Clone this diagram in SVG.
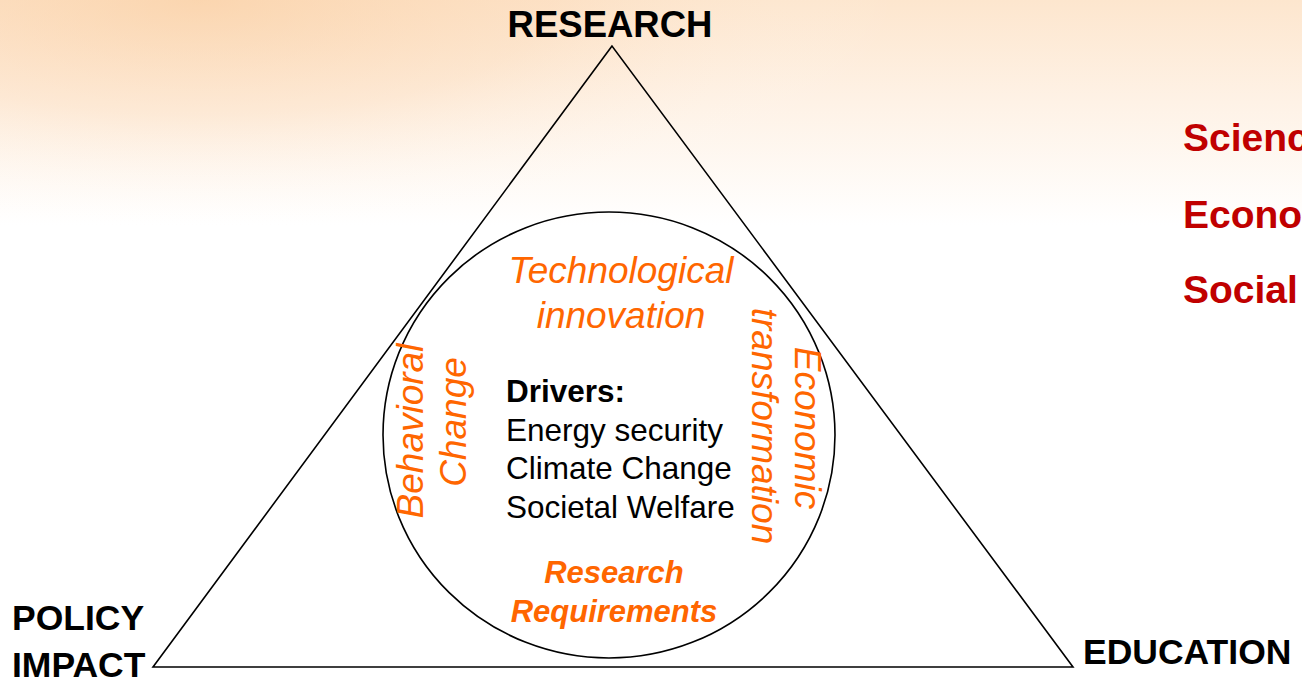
<svg xmlns="http://www.w3.org/2000/svg" width="1302" height="682" viewBox="0 0 1302 682">
<defs>
<linearGradient id="bgv" x1="0" y1="0" x2="0" y2="682" gradientUnits="userSpaceOnUse">
<stop offset="0" stop-color="#FDE6CE"/>
<stop offset="0.15" stop-color="#FEF2E6"/>
<stop offset="0.33" stop-color="#FFFFFF"/>
<stop offset="1" stop-color="#FFFFFF"/>
</linearGradient>
<radialGradient id="bgr" cx="200" cy="0" r="700" gradientUnits="userSpaceOnUse" gradientTransform="translate(200 0) scale(1 0.33) translate(-200 0)">
<stop offset="0" stop-color="#F9C896" stop-opacity="0.55"/>
<stop offset="0.5" stop-color="#FBD3AC" stop-opacity="0.3"/>
<stop offset="1" stop-color="#FFFFFF" stop-opacity="0"/>
</radialGradient>
</defs>
<style>
.lbl{font-family:"Liberation Sans",Arial,sans-serif;font-weight:bold;fill:#000}
.red{font-family:"Liberation Sans",Arial,sans-serif;font-weight:bold;fill:#C00000;font-size:39px}
.or{font-family:"Liberation Sans",Arial,sans-serif;font-style:italic;fill:#FF6600;font-size:37px}
.orb{font-family:"Liberation Sans",Arial,sans-serif;font-style:italic;font-weight:bold;fill:#FF6600;font-size:31px}
.drv{font-family:"Liberation Sans",Arial,sans-serif;fill:#000;font-size:31.5px}
.shape{fill:none;stroke:#000;stroke-width:1.6}
</style>
<rect x="0" y="0" width="1302" height="682" fill="url(#bgv)"/>
<rect x="0" y="0" width="1302" height="682" fill="url(#bgr)"/>

<g id="triangle">
<polygon class="shape" points="612,46 153,667 1073,667"/>
</g>
<g id="circle">
<ellipse class="shape" cx="609" cy="435" rx="226" ry="223"/>
</g>

<g id="node-research">
<text class="lbl" x="610" y="37" font-size="36.5" text-anchor="middle">RESEARCH</text>
</g>
<g id="node-policy">
<text class="lbl" x="12" y="630" font-size="35.5">POLICY</text>
<text class="lbl" x="12" y="677" font-size="35.5">IMPACT</text>
</g>
<g id="node-education">
<text class="lbl" x="1083" y="664" font-size="35.5">EDUCATION</text>
</g>

<g id="side-list">
<text class="red" x="1183" y="151">Science</text>
<text class="red" x="1183" y="228">Economic</text>
<text class="red" x="1183" y="303">Social</text>
</g>

<g id="circle-labels">
<text class="or" x="621" y="283" text-anchor="middle">Technological</text>
<text class="or" x="621" y="328" text-anchor="middle">innovation</text>
<text class="or" transform="translate(423 431) rotate(-90)" text-anchor="middle">Behavioral</text>
<text class="or" transform="translate(466 422) rotate(-90)" text-anchor="middle">Change</text>
<text class="or" transform="translate(752 426) rotate(90)" text-anchor="middle">transformation</text>
<text class="or" transform="translate(795 428) rotate(90)" text-anchor="middle">Economic</text>
<text class="orb" x="614" y="583" text-anchor="middle">Research</text>
<text class="orb" x="614" y="622" text-anchor="middle">Requirements</text>
</g>

<g id="drivers">
<text class="drv" x="506" y="402" font-weight="bold">Drivers:</text>
<text class="drv" x="506" y="441">Energy security</text>
<text class="drv" x="506" y="479">Climate Change</text>
<text class="drv" x="506" y="518">Societal Welfare</text>
</g>
</svg>
